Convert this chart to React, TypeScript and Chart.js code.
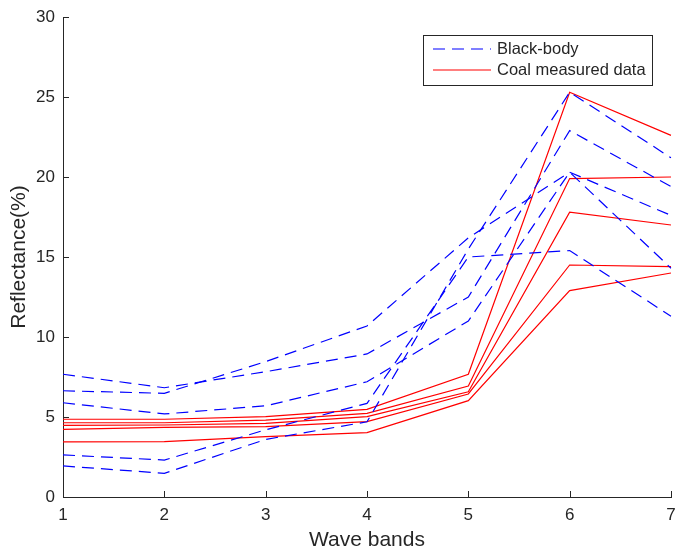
import React, { useEffect, useRef } from 'react';
import { Chart, registerables } from 'chart.js';

Chart.register(...registerables);

const bands = ['1', '2', '3', '4', '5', '6', '7'];

const blackBody1 = [7.67, 6.83, 7.83, 8.94, 12.5, 22.9, 19.4];
const blackBody2 = [6.64, 6.48, 8.46, 10.69, 16.2, 20.3, 17.6];
const blackBody3 = [5.89, 5.19, 5.7, 7.2, 11.0, 20.3, 14.3];
const blackBody4 = [2.63, 2.31, 4.2, 5.85, 15.0, 15.4, 11.3];
const blackBody5 = [1.94, 1.48, 3.6, 4.7, 15.5, 25.3, 21.2];

const coal1 = [4.86, 4.86, 5.02, 5.48, 7.67, 25.3, 22.6];
const coal2 = [4.64, 4.64, 4.81, 5.23, 6.94, 19.9, 20.0];
const coal3 = [4.48, 4.5, 4.6, 5.02, 6.58, 17.8, 17.0];
const coal4 = [4.23, 4.35, 4.4, 4.71, 6.44, 14.5, 14.4];
const coal5 = [3.44, 3.46, 3.77, 4.02, 6.02, 12.9, 14.0];

const blackBodySeries = [blackBody1, blackBody2, blackBody3, blackBody4, blackBody5];
const coalSeries = [coal1, coal2, coal3, coal4, coal5];

const yMin = 0;
const yMax = 30;
const yStep = 5;

const legendLabels = ['Black-body', 'Coal measured data'];
const xTitle = 'Wave bands';
const yTitle = 'Reflectance(%)';

const BLUE = '#0000ff';
const RED = '#ff0000';
const INK = '#262626';
const FONT = "'Liberation Sans', Arial, Helvetica, sans-serif";

const tickMarks = {
  id: 'tickMarks',
  afterDraw(chart: any) {
    const { ctx, chartArea, scales } = chart;
    ctx.save();
    ctx.strokeStyle = INK;
    ctx.lineWidth = 1;
    ctx.beginPath();
    const xs = scales.x;
    for (let i = 0; i < bands.length; i++) {
      const px = Math.round(xs.getPixelForValue(i)) + 0.5;
      ctx.moveTo(px, chartArea.bottom);
      ctx.lineTo(px, chartArea.bottom - 6);
    }
    const ys = scales.y;
    for (let v = yMin; v <= yMax; v += yStep) {
      const py = Math.round(ys.getPixelForValue(v)) + 0.5;
      ctx.moveTo(chartArea.left, py);
      ctx.lineTo(chartArea.left + 6, py);
    }
    ctx.stroke();
    ctx.restore();
  },
};

const boxLegend = {
  id: 'boxLegend',
  afterDraw(chart: any) {
    const { ctx, chartArea } = chart;
    const right = chartArea.right - 19;
    const top = chartArea.top + 18;
    const w = 229;
    const h = 50;
    const left = right - w;
    ctx.save();
    ctx.fillStyle = '#ffffff';
    ctx.fillRect(left, top, w, h);
    ctx.strokeStyle = INK;
    ctx.lineWidth = 1;
    ctx.strokeRect(Math.round(left) + 0.5, Math.round(top) + 0.5, w, h);
    const rows = [
      { color: BLUE, dash: [12, 7], y: top + 14 },
      { color: RED, dash: [], y: top + 35 },
    ];
    rows.forEach((r, i) => {
      ctx.beginPath();
      ctx.setLineDash(r.dash);
      ctx.strokeStyle = r.color;
      ctx.lineWidth = 1.2;
      ctx.moveTo(left + 10, r.y);
      ctx.lineTo(left + 68, r.y);
      ctx.stroke();
      ctx.setLineDash([]);
      ctx.fillStyle = INK;
      ctx.font = `16.5px ${FONT}`;
      ctx.textBaseline = 'middle';
      ctx.textAlign = 'left';
      ctx.fillText(legendLabels[i], left + 74, r.y);
    });
    ctx.restore();
  },
};

export default function App() {
  const ref = useRef<HTMLCanvasElement | null>(null);

  useEffect(() => {
    if (!ref.current) return;
    const datasets: any[] = [];
    blackBodySeries.forEach((s, i) => {
      datasets.push({
        label: `Black-body ${i + 1}`,
        data: s,
        borderColor: BLUE,
        borderWidth: 1.2,
        borderDash: [12, 7],
        pointRadius: 0,
        fill: false,
        tension: 0,
      });
    });
    coalSeries.forEach((s, i) => {
      datasets.push({
        label: `Coal ${i + 1}`,
        data: s,
        borderColor: RED,
        borderWidth: 1.2,
        pointRadius: 0,
        fill: false,
        tension: 0,
      });
    });

    const chart = new Chart(ref.current, {
      type: 'line',
      data: { labels: bands, datasets },
      options: {
        animation: false,
        responsive: false,
        devicePixelRatio: 1,
        layout: { padding: { top: 17, right: 4, left: 0, bottom: 0 } },
        plugins: {
          legend: { display: false },
          tooltip: { enabled: false },
        },
        scales: {
          x: {
            type: 'category',
            offset: false,
            grid: { display: false, drawTicks: false },
            border: { display: true, color: INK, width: 1 },
            ticks: {
              color: INK,
              font: { family: FONT, size: 17 },
              padding: 8,
              maxRotation: 0,
            },
            title: {
              display: true,
              text: xTitle,
              color: INK,
              font: { family: FONT, size: 21 },
              padding: 5,
            },
            afterFit(scale: any) {
              scale.height = 61;
              scale.paddingLeft = 0;
              scale.paddingRight = 0;
            },
          },
          y: {
            type: 'linear',
            min: yMin,
            max: yMax,
            grid: { display: false, drawTicks: false },
            border: { display: true, color: INK, width: 1 },
            ticks: {
              stepSize: yStep,
              color: INK,
              font: { family: FONT, size: 17 },
              padding: 8,
            },
            title: {
              display: true,
              text: yTitle,
              color: INK,
              font: { family: FONT, size: 21 },
              padding: 7,
            },
            afterFit(scale: any) {
              scale.width = 63;
              scale.paddingTop = 0;
              scale.paddingBottom = 0;
            },
          },
        },
      },
      plugins: [tickMarks, boxLegend],
    });
    return () => chart.destroy();
  }, []);

  return (
    <div style={{ position: 'absolute', left: 0, top: 0, width: 675, height: 558, background: '#fff' }}>
      <canvas ref={ref} width={675} height={558} />
    </div>
  );
}
